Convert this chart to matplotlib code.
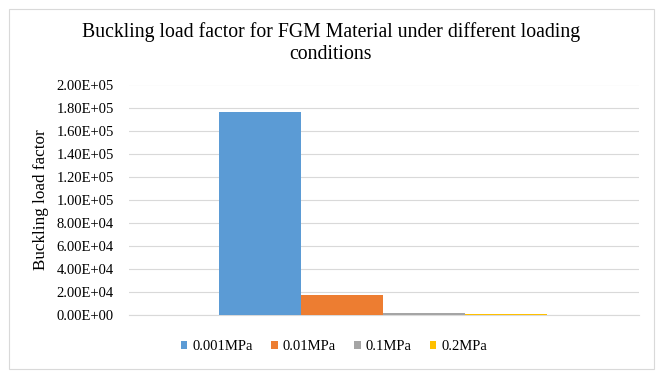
import numpy as np
import matplotlib.pyplot as plt
from matplotlib.patches import Rectangle

plt.rcParams['font.family'] = ['Liberation Serif', 'DejaVu Serif']

series = ['0.001MPa', '0.01MPa', '0.1MPa', '0.2MPa']
values = [176000, 17600, 1760, 880]
colors = ['#5B9BD5', '#ED7D31', '#A5A5A5', '#FFC000']
yticks = np.arange(0, 200001, 20000)
ytick_labels = ['0.00E+00', '2.00E+04', '4.00E+04', '6.00E+04', '8.00E+04', '1.00E+05',
                '1.20E+05', '1.40E+05', '1.60E+05', '1.80E+05', '2.00E+05']

W, H = 665, 378
fig = plt.figure(figsize=(W / 100, H / 100), dpi=100)
# outer chart border
fig.patches.append(Rectangle((9 / W, 9 / H), 645 / W, 360 / H,
                             transform=fig.transFigure, fill=False,
                             edgecolor='#D9D9D9', linewidth=0.8))

ax = fig.add_axes([129 / W, (H - 315) / H, 510 / W, 230.5 / H])
w = 82
x0 = 219 - 129
for i, (s, v, c) in enumerate(zip(series, values, colors)):
    ax.bar(x0 + i * w, v, width=w, align='edge', color=c, label=s, zorder=3)

ax.set_xlim(0, 510)
ax.set_ylim(0, 200000)
ax.set_yticks(yticks)
ax.set_yticklabels(ytick_labels, fontsize=10.5)
ax.set_xticks([])
ax.grid(axis='y', color='#D9D9D9', linewidth=0.8, zorder=0)
for sp in ['top', 'right', 'left']:
    ax.spines[sp].set_visible(False)
ax.spines['bottom'].set_color('#D9D9D9')
ax.tick_params(axis='y', length=0, pad=11, colors='#000000')
ax.set_ylabel('Buckling load factor', fontsize=12.3, labelpad=5)

fig.text(331 / W, 1 - 43 / H, 'Buckling load factor for FGM Material under different loading\nconditions',
         ha='center', va='center', fontsize=14.2, linespacing=1.25)

fig.legend(*ax.get_legend_handles_labels(), loc='center',
           bbox_to_anchor=(334 / W, 1 - 347 / H), ncol=4, frameon=False,
           fontsize=10.5, handlelength=0.45, handleheight=0.45, handletextpad=0.35,
           columnspacing=1.25)

fig.savefig('out.png', dpi=100)
